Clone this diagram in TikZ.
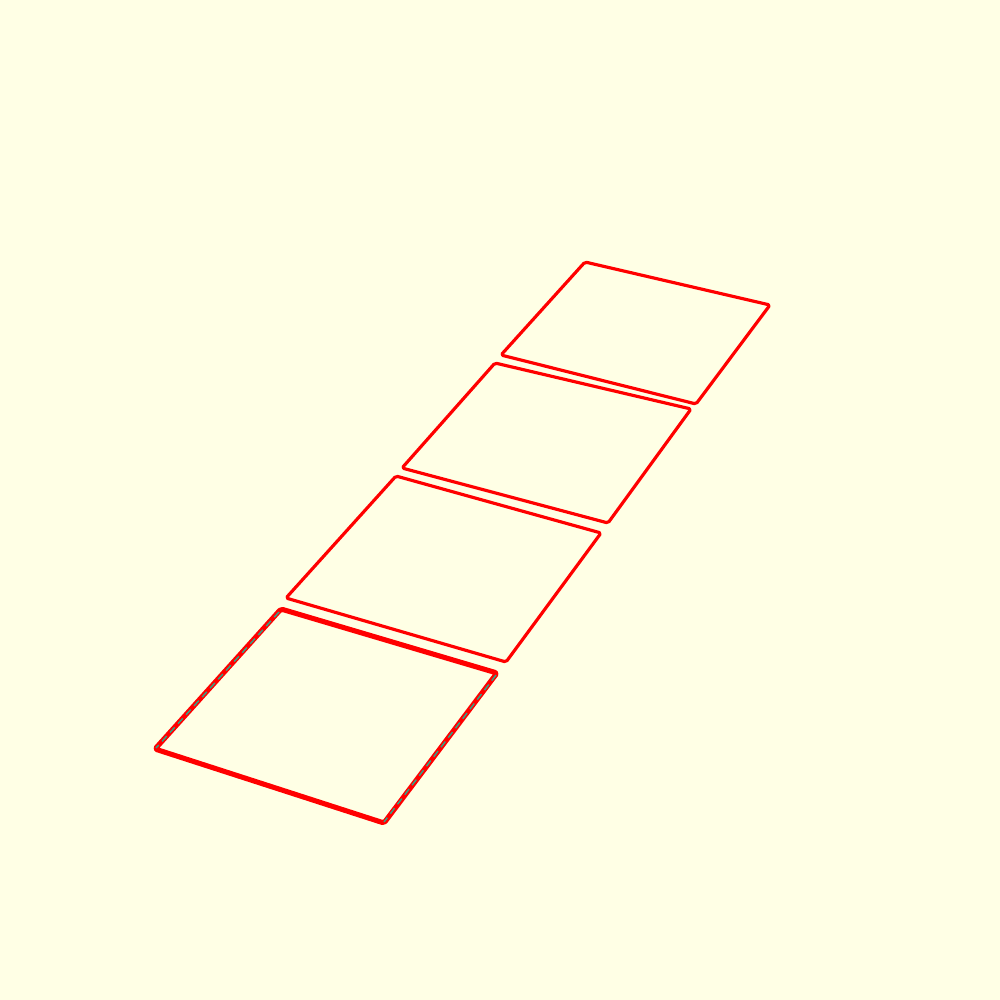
\documentclass[tikz,border=0pt]{standalone}
\definecolor{paper}{HTML}{FFFFE5}
\definecolor{edgeteal}{HTML}{2FA58A}
\tikzset{
  panel/.style = {draw=red, line width=0.9pt, line join=round,
    rounded corners=0.5pt},% thin outline
  panel_b/.style = {draw=red, line width=1.45pt, line join=round,
    rounded corners=0.5pt},% bottom panel, heavier outline
  panel_e/.style = {draw=edgeteal, line width=0.4pt,
    dash pattern=on 2pt off 1.4pt}% dashes along the side edges
}
\begin{document}
\begin{tikzpicture}[x=0.01cm,y=-0.01cm]
\fill [paper] (0,0) rectangle (1000,1000);
\useasboundingbox (0,0) rectangle (1000,1000);
% panels, far to near
\draw [panel] (585,262) -- (770,305) -- (696,404) -- (501,355) -- cycle;
\draw [panel] (495,363) -- (691,409) -- (608,523) -- (402,468) -- cycle;
\draw [panel] (396,476) -- (601,533) -- (506,662) -- (286,598) -- cycle;
\draw [panel_b] (281,609) -- (497,673) -- (384,823) -- (155,749) -- cycle;
\draw [panel_e] (279,612) -- (156,748);
\draw [panel_e] (496,675) -- (384,822);
\end{tikzpicture}
\end{document}
